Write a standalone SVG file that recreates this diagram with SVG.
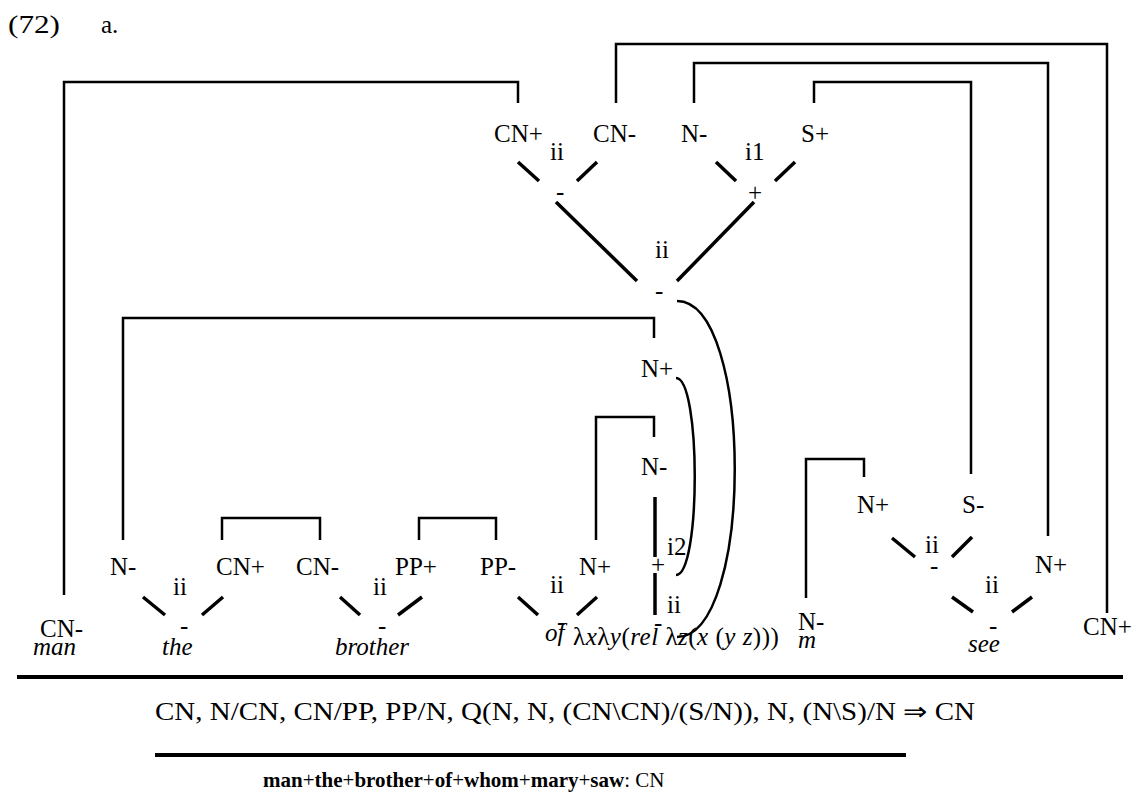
<svg xmlns="http://www.w3.org/2000/svg" width="1141" height="801" viewBox="0 0 1141 801">
<style>
text{font-family:"Liberation Serif","Times New Roman",serif;fill:#000}
.lb{font-size:25px}
.it{font-size:25px;font-style:italic}
.sm{font-size:25px}
.lk{fill:none;stroke:#000;stroke-width:2.5}
.br{fill:none;stroke:#000;stroke-width:3.5}
.arc{fill:none;stroke:#000;stroke-width:2.5}
.rule{stroke:#000;stroke-width:4}
.b{font-weight:bold}
</style>
<rect width="1141" height="801" fill="#fff"/>
<g id="title">
<text x="8" y="33" class="lb" textLength="52" lengthAdjust="spacingAndGlyphs">(72)</text>
<text x="101" y="33" class="lb">a.</text>
</g>
<g id="connectors">
<path class="lk" d="M64,595 V82 H518 V103"/>
<path class="lk" d="M616,103 V44 H1107 V613"/>
<path class="lk" d="M694,103 V63 H1048 V536"/>
<path class="lk" d="M814,103 V82 H971 V474"/>
<path class="lk" d="M123,540 V318 H654 V338"/>
<path class="lk" d="M596,540 V417 H654 V437"/>
<path class="lk" d="M806,598 V459 H864 V477"/>
<path class="lk" d="M222,540 V518 H320 V540"/>
<path class="lk" d="M419,540 V518 H496 V540"/>
<path class="arc" d="M677,301 C754,301 754,637 677,637"/>
<path class="arc" d="M676,378 C701,378 701,575 676,575"/>
</g>
<g id="node-top-left">
<text x="494" y="142" class="lb">CN+</text>
<text x="593" y="142" class="lb">CN-</text>
<text x="550" y="160" class="sm">ii</text>
<line class="br" x1="518" y1="162" x2="539" y2="181"/>
<line class="br" x1="597" y1="162" x2="577" y2="181"/>
<text x="556" y="200" class="lb">-</text>
</g>
<g id="node-top-right">
<text x="681" y="142" class="lb">N-</text>
<text x="801" y="142" class="lb">S+</text>
<text x="745" y="160" class="sm">i1</text>
<line class="br" x1="716" y1="162" x2="736" y2="181"/>
<line class="br" x1="795" y1="162" x2="775" y2="181"/>
<text x="748" y="201" class="lb">+</text>
</g>
<g id="node-quant">
<line class="br" x1="556" y1="202" x2="637" y2="281"/>
<line class="br" x1="754" y1="202" x2="677" y2="281"/>
<text x="655" y="258" class="sm">ii</text>
<text x="655" y="299" class="lb">-</text>
<text x="641" y="377" class="lb">N+</text>
<text x="641" y="475" class="lb">N-</text>
<line class="br" x1="655" y1="497" x2="655" y2="557"/>
<text x="667" y="555" class="sm">i2</text>
<text x="651" y="573" class="lb">+</text>
<line class="br" x1="655" y1="573" x2="655" y2="615"/>
<text x="667" y="613" class="sm">ii</text>
<text x="654" y="631" class="lb">-</text>
<text x="573" y="645" class="lb" letter-spacing="0.5">λ<tspan font-style="italic">x</tspan>λ<tspan font-style="italic">y</tspan>(<tspan font-style="italic">rel</tspan> λ<tspan font-style="italic">z</tspan>(<tspan font-style="italic">x</tspan> (<tspan font-style="italic">y</tspan> <tspan font-style="italic">z</tspan>)))</text>
</g>
<g id="node-man">
<text x="40" y="637" class="lb">CN-</text>
<text x="33" y="655" class="it">man</text>
</g>
<g id="node-the">
<text x="110" y="575" class="lb">N-</text>
<text x="216" y="575" class="lb">CN+</text>
<text x="173" y="595" class="sm">ii</text>
<line class="br" x1="143" y1="597" x2="165" y2="615"/>
<line class="br" x1="223" y1="597" x2="202" y2="615"/>
<text x="180" y="634" class="lb">-</text>
<text x="162" y="655" class="it">the</text>
</g>
<g id="node-brother">
<text x="296" y="575" class="lb">CN-</text>
<text x="395" y="575" class="lb">PP+</text>
<text x="373" y="595" class="sm">ii</text>
<line class="br" x1="340" y1="597" x2="360" y2="615"/>
<line class="br" x1="422" y1="597" x2="398" y2="615"/>
<text x="378" y="634" class="lb">-</text>
<text x="335" y="655" class="it">brother</text>
</g>
<g id="node-of">
<text x="480" y="575" class="lb">PP-</text>
<text x="579" y="575" class="lb">N+</text>
<text x="550" y="593" class="sm">ii</text>
<line class="br" x1="518" y1="597" x2="538" y2="615"/>
<line class="br" x1="597" y1="597" x2="577" y2="615"/>
<text x="557" y="630" class="lb">-</text>
<text x="545" y="641" class="it">of</text>
</g>
<g id="node-mary">
<text x="798" y="630" class="lb">N-</text>
<text x="798" y="648" class="it">m</text>
</g>
<g id="node-see">
<text x="857" y="513" class="lb">N+</text>
<text x="962" y="513" class="lb">S-</text>
<text x="925" y="553" class="sm">ii</text>
<line class="br" x1="892" y1="538" x2="915" y2="557"/>
<line class="br" x1="972" y1="537" x2="952" y2="557"/>
<text x="930" y="574" class="lb">-</text>
<text x="1035" y="573" class="lb">N+</text>
<text x="985" y="593" class="sm">ii</text>
<line class="br" x1="952" y1="597" x2="973" y2="612"/>
<line class="br" x1="1032" y1="597" x2="1012" y2="612"/>
<text x="989" y="634" class="lb">-</text>
<text x="968" y="652" class="it">see</text>
</g>
<g id="node-cn-right">
<text x="1083" y="635" class="lb">CN+</text>
</g>
<g id="sequent">
<line class="rule" x1="17" y1="677" x2="1123" y2="677"/>
<text x="155" y="720" class="lb" textLength="820" lengthAdjust="spacingAndGlyphs">CN, N/CN, CN/PP, PP/N, Q(N, N, (CN\CN)/(S/N)), N, (N\S)/N ⇒ CN</text>
<line class="rule" x1="155" y1="755" x2="906" y2="755"/>
<text x="263" y="787" font-size="21"><tspan class="b">man</tspan>+<tspan class="b">the</tspan>+<tspan class="b">brother</tspan>+<tspan class="b">of</tspan>+<tspan class="b">whom</tspan>+<tspan class="b">mary</tspan>+<tspan class="b">saw</tspan>: CN</text>
</g>
</svg>
